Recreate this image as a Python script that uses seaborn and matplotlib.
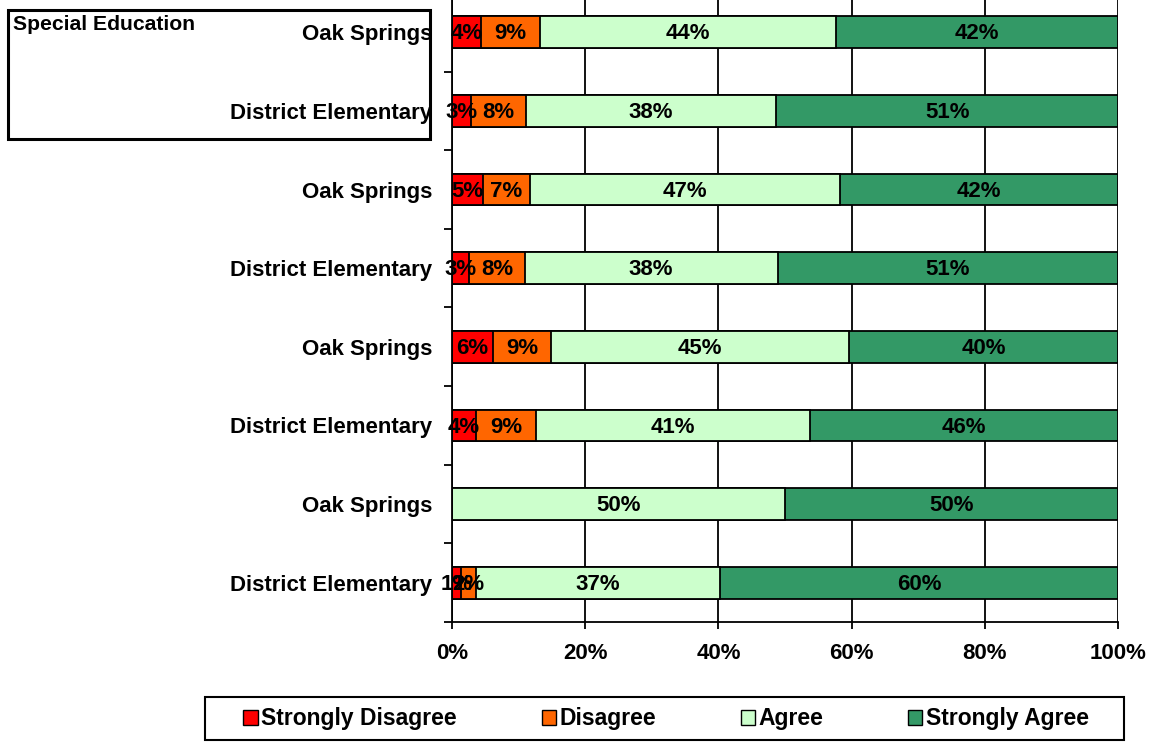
import numpy as np
import pandas as pd
import matplotlib.pyplot as plt
import seaborn as sns
from matplotlib.patches import Rectangle, Patch

# survey results, top row first (percent of respondents)
schools = ["Oak Springs", "District Elementary"] * 4
strongly_disagree = [4.4, 2.8, 4.6, 2.6, 6.2, 3.6, 0.0, 1.3]
disagree = [8.8, 8.3, 7.1, 8.3, 8.7, 9.0, 0.0, 2.3]
agree = [44.4, 37.6, 46.6, 38.0, 44.7, 41.2, 50.0, 36.7]
strongly_agree = [42.4, 51.3, 41.7, 51.1, 40.4, 46.2, 50.0, 59.7]
levels = ["Strongly Disagree", "Disagree", "Agree", "Strongly Agree"]
colors = ["#FF0000", "#FF6600", "#CCFFCC", "#339966"]
x_ticks = [0, 20, 40, 60, 80, 100]
box_title = "Special Education"

sns.set_theme(style="white")
plt.rcParams["font.family"] = ["Liberation Sans", "DejaVu Sans"]
plt.rcParams["font.weight"] = "bold"
for key in ["text.color", "axes.labelcolor", "xtick.color", "ytick.color"]:
    plt.rcParams[key] = "black"

df = pd.DataFrame({
    "row": [f"{s}_{i}" for i, s in enumerate(schools)],
    "Strongly Disagree": strongly_disagree,
    "Disagree": disagree,
    "Agree": agree,
    "Strongly Agree": strongly_agree,
})
cum = df[levels].cumsum(axis=1)

W, H = 1155, 742
fig = plt.figure(figsize=(W / 100, H / 100), dpi=100)
ax = fig.add_axes([452 / W, 1 - 622 / H, 666 / W, 629 / H])

# stacked bars: draw cumulative totals from the back to the front
for lvl, col in reversed(list(zip(levels, colors))):
    sns.barplot(x=cum[lvl], y=df["row"], orient="h", color=col,
                edgecolor="black", linewidth=1.3, width=0.405,
                errorbar=None, saturation=1, ax=ax)

# segment labels
for i in range(len(df)):
    left = 0
    for lvl in levels:
        v = df.loc[i, lvl]
        if v > 0:
            ax.text(left + v / 2, i + 0.02, f"{v:.0f}%", ha="center", va="center",
                    fontsize=16, fontweight="bold", color="black")
        left += v

ax.set_xlim(0, 100)
ax.set_ylim(len(df) - 0.5, -0.5)
ax.set_xlabel("")
ax.set_ylabel("")
ax.set_xticks(x_ticks, labels=[f"{t}%" for t in x_ticks])
ax.set_yticks(range(len(df)), labels=schools)
ax.set_yticks(np.arange(-0.5, len(df)), minor=True)
ax.tick_params(axis="y", which="major", length=0, pad=14, labelsize=16)
ax.tick_params(axis="y", which="minor", left=True, length=6, width=1.3, color="black")
ax.tick_params(axis="x", bottom=True, length=5, width=1.3, color="black", pad=10, labelsize=16)

ax.set_axisbelow(True)
ax.xaxis.grid(True, color="black", linewidth=1.3)
ax.yaxis.grid(False)
for side in ["top", "right"]:
    ax.spines[side].set_visible(False)
for side in ["left", "bottom"]:
    ax.spines[side].set_color("black")
    ax.spines[side].set_linewidth(1.3)

# title box in the top-left corner
fig.add_artist(Rectangle((8 / W, 1 - 139 / H), 422 / W, 129 / H, transform=fig.transFigure,
                         fill=False, edgecolor="black", linewidth=2.2))
fig.text(13 / W, 1 - 15 / H, box_title, ha="left", va="top", fontsize=15.2, fontweight="bold")

# legend with its own frame below the chart
handles = [Patch(facecolor=c, edgecolor="black", linewidth=1.0) for c in colors]
fig.legend(handles, levels, loc="center", bbox_to_anchor=(666 / W, 1 - 719 / H), ncol=4,
           frameon=False, fontsize=16.5, handlelength=0.62, handleheight=0.62,
           handletextpad=0.15, columnspacing=3.7)
fig.add_artist(Rectangle((205 / W, 1 - 740 / H), 919 / W, 43 / H, transform=fig.transFigure,
                         fill=False, edgecolor="black", linewidth=1.5))

fig.savefig("out.png", dpi=100)
